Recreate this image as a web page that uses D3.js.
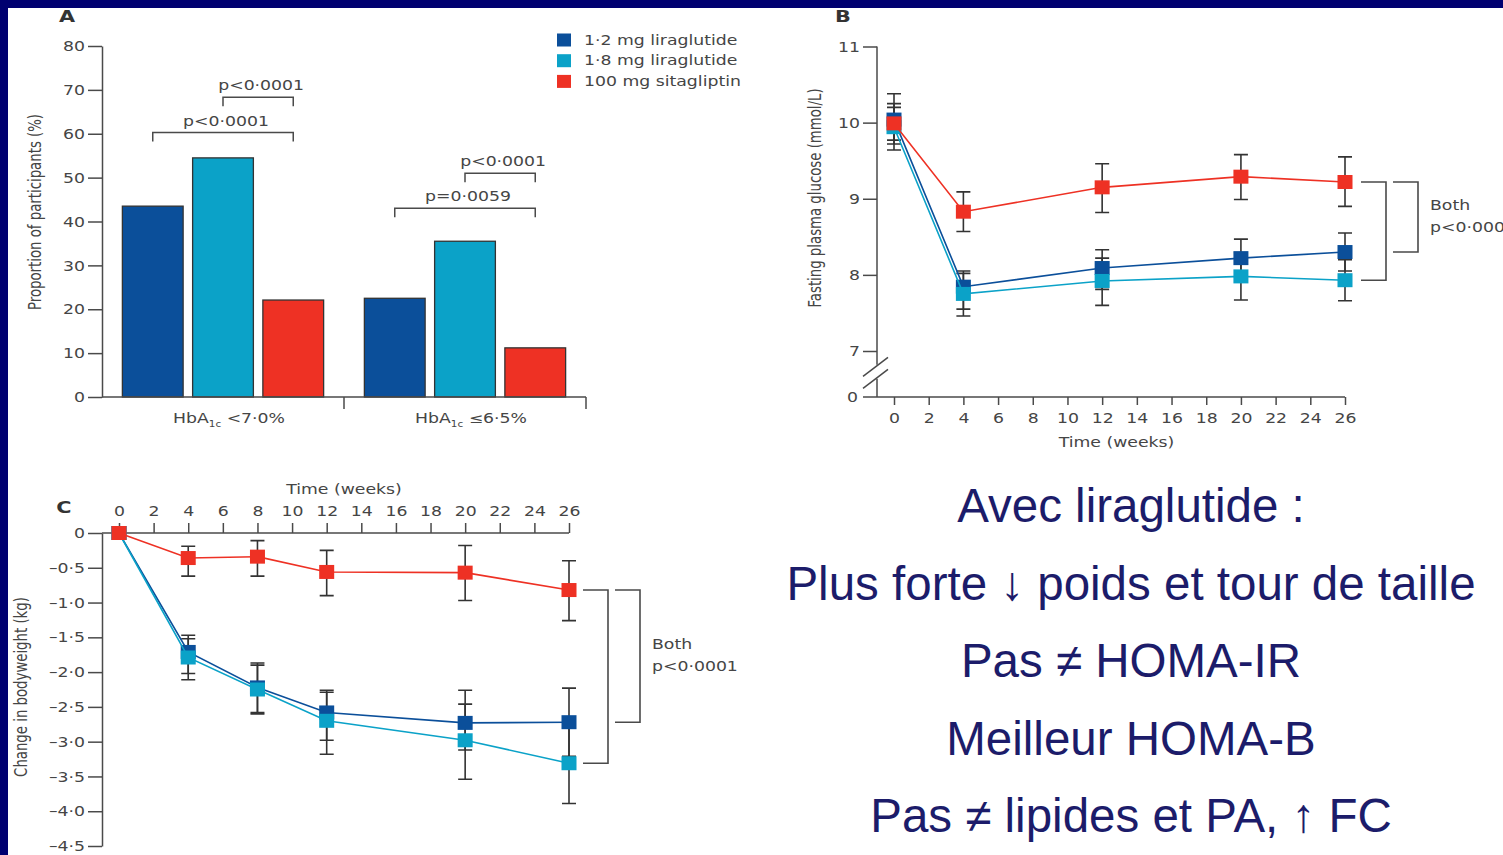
<!DOCTYPE html>
<html>
<head>
<meta charset="utf-8">
<script src="https://cdn.jsdelivr.net/npm/d3@7"></script>
<style>
  html, body { margin: 0; padding: 0; background: #000070; }
  svg { display: block; }
</style>
</head>
<body>
<svg id="slide" width="1503" height="855"></svg>
<script>
// ---------- shared series ----------
const seriesNames  = ["1·2 mg liraglutide", "1·8 mg liraglutide", "100 mg sitagliptin"];
const seriesColors = ["#0b4f9a", "#0ba2c8", "#ee3124"];

// ---------- panel A: participants reaching HbA1c target (%) ----------
const targetGroups = ["<7·0%", "≤6·5%"];
const targetLira12 = [43.5, 22.5];
const targetLira18 = [54.5, 35.5];
const targetSita   = [22.1, 11.2];
const targetTicks  = [0, 10, 20, 30, 40, 50, 60, 70, 80];
// pairwise comparisons: group index, bar indices, bracket height (%), p value
const targetPairGroup = [0, 0, 1, 1];
const targetPairFrom  = [0, 1, 0, 1];
const targetPairTo    = [2, 2, 2, 2];
const targetPairLevel = [60.3, 68.3, 43, 51];
const targetPairText  = ["p<0·0001", "p<0·0001", "p=0·0059", "p<0·0001"];

// ---------- panel B: fasting plasma glucose (mmol/L) ----------
const fpgWeeks      = [0, 4, 12, 20, 26];
const fpgTicksY     = [7, 8, 9, 10, 11];
const fpgLira12     = [10.04, 7.845, 8.09, 8.22, 8.30];
const fpgLira12Low  = [9.72, 7.55, 7.81, 7.97, 8.05];
const fpgLira12High = [10.38, 8.05, 8.33, 8.47, 8.55];
const fpgLira18     = [9.94, 7.75, 7.92, 7.98, 7.93];
const fpgLira18Low  = [9.64, 7.46, 7.60, 7.67, 7.66];
const fpgLira18High = [10.20, 8.02, 8.22, 8.29, 8.20];
const fpgSita       = [9.99, 8.83, 9.15, 9.29, 9.22];
const fpgSitaLow    = [9.77, 8.57, 8.82, 8.99, 8.90];
const fpgSitaHigh   = [10.25, 9.09, 9.46, 9.58, 9.55];

// ---------- panel C: change in bodyweight (kg) ----------
const weightWeeks      = [0, 4, 8, 12, 20, 26];
const weightTicksY     = [0, -0.5, -1, -1.5, -2, -2.5, -3, -3.5, -4, -4.5];
const weightLira12     = [0, -1.71, -2.22, -2.58, -2.73, -2.72];
const weightLira12Low  = [0, -2.02, -2.58, -2.98, -3.12, -3.21];
const weightLira12High = [0, -1.47, -1.87, -2.26, -2.26, -2.23];
const weightLira18     = [0, -1.79, -2.25, -2.70, -2.98, -3.31];
const weightLira18Low  = [0, -2.11, -2.60, -3.18, -3.54, -3.89];
const weightLira18High = [0, -1.52, -1.90, -2.29, -2.46, -2.73];
const weightSita       = [0, -0.36, -0.34, -0.56, -0.57, -0.82];
const weightSitaLow    = [0, -0.62, -0.62, -0.90, -0.97, -1.26];
const weightSitaHigh   = [0, -0.19, -0.11, -0.25, -0.18, -0.40];

const weekTicks = d3.range(0, 27, 2);

// ---------- slide summary text ----------
const summaryLines = [
  "Avec liraglutide :",
  "Plus forte ↓ poids et tour de taille",
  "Pas ≠ HOMA-IR",
  "Meilleur HOMA-B",
  "Pas ≠ lipides et PA, ↑ FC"
];

// ---------- styling ----------
const FONT = "'DejaVu Sans', Verdana, sans-serif";
const FS = 13.3;      // figure text size
const SX = 1.3;       // figure glyphs are drawn wide
const INK = "#454545";
const AXIS = "#4a4a4a";
const ERR = "#333";

const svg = d3.select("#slide");
svg.append("rect").attr("x", 8).attr("y", 8).attr("width", 1495).attr("height", 847).attr("fill", "#fff");

function label(g, x, y, str, opt = {}) {
  return g.append("text")
    .attr("transform", `translate(${x},${y}) scale(${SX},1)` + (opt.rotate ? " rotate(-90)" : ""))
    .attr("text-anchor", opt.anchor || "middle")
    .attr("dy", "0.35em")
    .attr("font-family", FONT)
    .attr("font-size", opt.size || FS)
    .attr("font-weight", opt.weight || "normal")
    .attr("fill", opt.fill || INK)
    .text(str);
}

function styleAxis(ax, textX, textY) {
  ax.select(".domain").attr("stroke", AXIS).attr("stroke-width", 1.5);
  ax.selectAll(".tick line").attr("stroke", AXIS).attr("stroke-width", 1.5);
  ax.selectAll(".tick text")
    .attr("font-family", FONT).attr("font-size", FS).attr("fill", INK)
    .attr("x", textX / SX).attr("y", textY).attr("dy", "0.35em")
    .attr("transform", `scale(${SX},1)`);
}

function decimal(v) { return d3.format(".1f")(v).replace(".", "·"); }
const integer = d3.format("d");

// =================== PANEL A ===================
const gA = svg.append("g");
const yA = d3.scaleLinear().domain([0, 80]).range([397, 46]);
const xA = d3.scaleBand().domain(targetGroups).range([102, 586]);
const xAin = d3.scaleBand().domain(d3.range(3)).range([0, xA.bandwidth()])
  .paddingInner(0.135).paddingOuter(0.29);
const targetSeries = [targetLira12, targetLira18, targetSita];

targetGroups.forEach((grp, gi) => {
  gA.selectAll(null).data(targetSeries.map((vals, si) => ({ si, v: vals[gi] })))
    .enter().append("rect")
    .attr("x", d => xA(grp) + xAin(d.si))
    .attr("y", d => yA(d.v))
    .attr("width", xAin.bandwidth())
    .attr("height", d => yA(0) - yA(d.v))
    .attr("fill", d => seriesColors[d.si])
    .attr("stroke", "#333").attr("stroke-width", 1.3);
});

const axA = gA.append("g").attr("transform", "translate(102,0)")
  .call(d3.axisLeft(yA).tickValues(targetTicks).tickFormat(integer).tickSize(14).tickSizeOuter(0));
styleAxis(axA, -17, 0);

// category baseline with group separators
gA.append("line").attr("x1", xA.range()[0]).attr("x2", xA.range()[1])
  .attr("y1", yA(0)).attr("y2", yA(0)).attr("stroke", AXIS).attr("stroke-width", 1.5);
[xA(targetGroups[1]), xA.range()[1]].forEach(x => {
  gA.append("line").attr("x1", x).attr("x2", x).attr("y1", yA(0)).attr("y2", yA(0) + 12)
    .attr("stroke", AXIS).attr("stroke-width", 1.5);
});
targetGroups.forEach(grp => {
  const t = label(gA, xA(grp) + xA.bandwidth() / 2 + 6, yA(0) + 21, "");
  t.append("tspan").text("HbA");
  t.append("tspan").attr("font-size", 8).attr("dy", 4).text("1c");
  t.append("tspan").attr("dy", -4).text(" " + grp);
});

// comparison brackets
targetPairText.forEach((txt, i) => {
  const grp = targetGroups[targetPairGroup[i]];
  const x1 = xA(grp) + xAin(targetPairFrom[i]) + xAin.bandwidth() / 2;
  const x2 = xA(grp) + xAin(targetPairTo[i]) + xAin.bandwidth() / 2;
  const y = yA(targetPairLevel[i]);
  gA.append("path").attr("d", `M${x1},${y + 9}V${y}H${x2}V${y + 9}`)
    .attr("fill", "none").attr("stroke", AXIS).attr("stroke-width", 1.5);
  label(gA, (x1 + x2) / 2 + 3, y - 11.5, txt);
});

// legend
seriesNames.forEach((name, i) => {
  const cy = 40 + i * 20.7;
  gA.append("rect").attr("x", 557).attr("y", cy - 6.5).attr("width", 14).attr("height", 13)
    .attr("fill", seriesColors[i]);
  label(gA, 584, cy, name, { anchor: "start" });
});

label(gA, 67, 16, "A", { weight: "bold", size: 16, fill: "#333" });
label(gA, 35, 212, "Proportion of participants (%)", { rotate: true });

// =================== shared line-panel helpers ===================
function drawSeries(g, x, y, weeks, means, lows, highs, color) {
  return { weeks, means, lows, highs, color, g, x, y };
}
function renderSeries(list) {
  // error bars first so markers sit on top
  list.forEach(s => {
    s.weeks.forEach((w, i) => {
      if (s.lows[i] === s.highs[i]) return;
      const cx = s.x(w);
      const yl = s.y(s.lows[i]), yh = s.y(s.highs[i]);
      s.g.append("path")
        .attr("d", `M${cx},${yl}V${yh}M${cx - 7},${yl}H${cx + 7}M${cx - 7},${yh}H${cx + 7}`)
        .attr("fill", "none").attr("stroke", ERR).attr("stroke-width", 1.6);
    });
  });
  list.forEach(s => {
    const line = d3.line().x((d, i) => s.x(s.weeks[i])).y(d => s.y(d));
    s.g.append("path").datum(s.means).attr("d", line)
      .attr("fill", "none").attr("stroke", s.color).attr("stroke-width", 1.6);
    s.g.selectAll(null).data(s.means.map((m, i) => ({ w: s.weeks[i], m })))
      .enter().append("rect")
      .attr("x", d => s.x(d.w) - 7.5).attr("y", d => s.y(d.m) - 7)
      .attr("width", 15).attr("height", 14).attr("fill", s.color);
  });
}
function endBrackets(g, x, yTop, yMid, yLow) {
  const arm = (x1, x2, ya, yb) =>
    g.append("path").attr("d", `M${x1},${ya}H${x2}V${yb}H${x1}`)
      .attr("fill", "none").attr("stroke", AXIS).attr("stroke-width", 1.6);
  arm(x + 16, x + 41, yTop, yLow);
  arm(x + 48, x + 73, yTop, yMid);
  const mid = (yTop + yMid) / 2;
  label(g, x + 85, mid - 11.5, "Both", { anchor: "start" });
  label(g, x + 85, mid + 10.5, "p<0·0001", { anchor: "start" });
}

// =================== PANEL B ===================
const gB = svg.append("g");
const xB = d3.scaleLinear().domain([0, 26]).range([894, 1345]);
const yB = d3.scaleLinear().domain([7, 11]).range([351, 46.5]);
const yB0 = 397;            // position of zero below the axis break
const axisXB = 877;

// y axis with break between 7 and 0
const breakC = yB(7) + 0.45 * (yB0 - yB(7));
const slope = 19 / 25;
const s1 = breakC - 6, s2 = breakC + 6;   // slash heights at the axis
gB.append("line").attr("x1", axisXB).attr("x2", axisXB).attr("y1", yB(11)).attr("y2", s1 - 1)
  .attr("stroke", AXIS).attr("stroke-width", 1.5);
gB.append("line").attr("x1", axisXB).attr("x2", axisXB).attr("y1", s2 + 1).attr("y2", yB0)
  .attr("stroke", AXIS).attr("stroke-width", 1.5);
[s1, s2].forEach(sy => {
  gB.append("line").attr("x1", axisXB - 14).attr("y1", sy + 14 * slope)
    .attr("x2", axisXB + 11).attr("y2", sy - 11 * slope)
    .attr("stroke", AXIS).attr("stroke-width", 1.5);
});
const axBy = gB.append("g").attr("transform", `translate(${axisXB},0)`)
  .call(d3.axisLeft(yB).tickValues(fpgTicksY).tickFormat(integer).tickSize(14).tickSizeOuter(0));
axBy.select(".domain").remove();
styleAxis(axBy, -17, 0);
label(gB, axisXB - 19, yB0, "0", { anchor: "end" });

// x axis
gB.append("line").attr("x1", axisXB - 14).attr("x2", xB(26)).attr("y1", yB0).attr("y2", yB0)
  .attr("stroke", AXIS).attr("stroke-width", 1.5);
const axBx = gB.append("g").attr("transform", `translate(0,${yB0})`)
  .call(d3.axisBottom(xB).tickValues(weekTicks).tickFormat(integer).tickSize(8).tickSizeOuter(0));
axBx.select(".domain").remove();
styleAxis(axBx, 0, 21);
label(gB, (xB(0) + xB(26)) / 2 - 3, 442, "Time (weeks)");
label(gB, 843, 16, "B", { weight: "bold", size: 16, fill: "#333" });
label(gB, 815, 198, "Fasting plasma glucose (mmol/L)", { rotate: true });

renderSeries([
  drawSeries(gB, xB, yB, fpgWeeks, fpgLira12, fpgLira12Low, fpgLira12High, seriesColors[0]),
  drawSeries(gB, xB, yB, fpgWeeks, fpgLira18, fpgLira18Low, fpgLira18High, seriesColors[1]),
  drawSeries(gB, xB, yB, fpgWeeks, fpgSita, fpgSitaLow, fpgSitaHigh, seriesColors[2])
]);
const lastB = fpgWeeks.length - 1;
endBrackets(gB, xB(26), yB(fpgSita[lastB]), yB(fpgLira12[lastB]), yB(fpgLira18[lastB]));

// =================== PANEL C ===================
const gC = svg.append("g");
const xC = d3.scaleLinear().domain([0, 26]).range([119, 569]);
const yC = d3.scaleLinear().domain([0, -4.5]).range([533, 846]);
const axisXC = 102;

const axCy = gC.append("g").attr("transform", `translate(${axisXC},0)`)
  .call(d3.axisLeft(yC).tickValues(weightTicksY).tickSize(14).tickSizeOuter(0)
    .tickFormat(d => d === 0 ? "0" : "–" + decimal(-d)));
styleAxis(axCy, -17, 0);

gC.append("line").attr("x1", axisXC).attr("x2", xC(26)).attr("y1", yC(0)).attr("y2", yC(0))
  .attr("stroke", AXIS).attr("stroke-width", 1.5);
const axCx = gC.append("g").attr("transform", `translate(0,${yC(0)})`)
  .call(d3.axisTop(xC).tickValues(weekTicks).tickFormat(integer).tickSize(10).tickSizeOuter(0));
axCx.select(".domain").remove();
styleAxis(axCx, 0, -22);
label(gC, (xC(0) + xC(26)) / 2, 489, "Time (weeks)");
label(gC, 64, 507, "C", { weight: "bold", size: 16, fill: "#333" });
label(gC, 21, 687, "Change in bodyweight (kg)", { rotate: true });

renderSeries([
  drawSeries(gC, xC, yC, weightWeeks, weightLira12, weightLira12Low, weightLira12High, seriesColors[0]),
  drawSeries(gC, xC, yC, weightWeeks, weightLira18, weightLira18Low, weightLira18High, seriesColors[1]),
  drawSeries(gC, xC, yC, weightWeeks, weightSita, weightSitaLow, weightSitaHigh, seriesColors[2])
]);
const lastC = weightWeeks.length - 1;
endBrackets(gC, xC(26) - 2, yC(weightSita[lastC]), yC(weightLira12[lastC]), yC(weightLira18[lastC]));

// =================== summary text ===================
const gT = svg.append("g");
summaryLines.forEach((line, i) => {
  gT.append("text")
    .attr("x", 1131).attr("y", 522 + i * 77.5)
    .attr("text-anchor", "middle")
    .attr("font-family", "'Liberation Sans', Arial, sans-serif")
    .attr("font-size", 47.5)
    .attr("fill", "#1c1c6a")
    .text(line);
});
</script>
</body>
</html>
